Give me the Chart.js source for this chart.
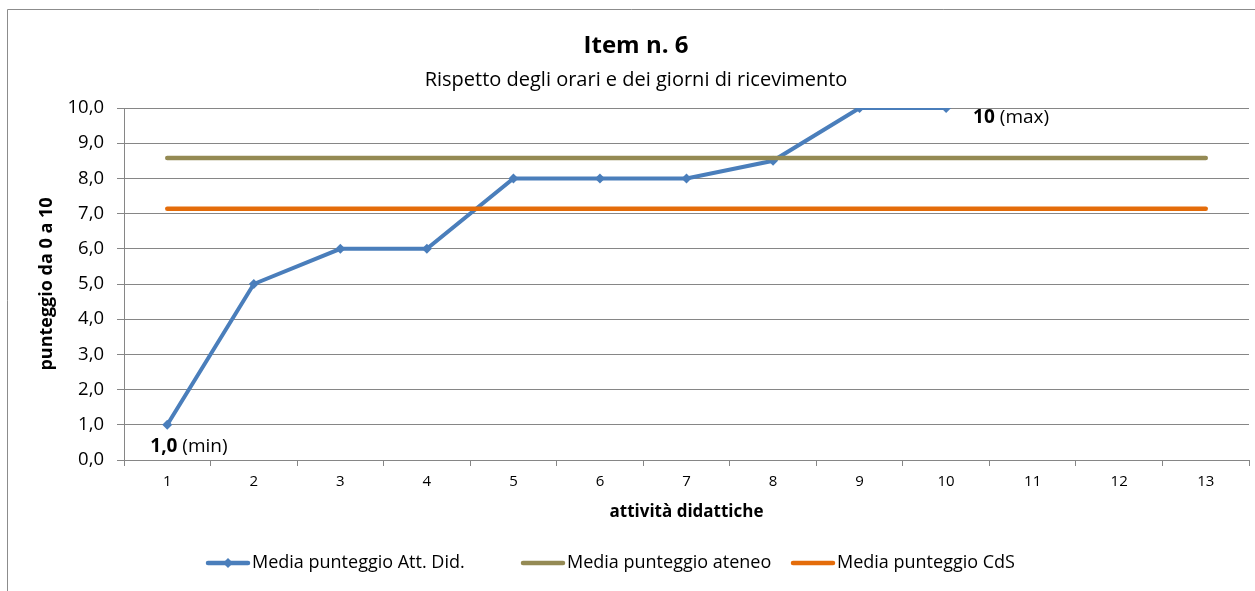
<!DOCTYPE html>
<html>
<head>
<meta charset="utf-8">
<script src="https://cdn.jsdelivr.net/npm/chart.js@4/dist/chart.umd.min.js"></script>
<style>
  html, body { margin: 0; padding: 0; background: #fff; }
</style>
</head>
<body>
<canvas id="itemChart" width="1255" height="591"></canvas>
<script>
// dati
const categories = ['1', '2', '3', '4', '5', '6', '7', '8', '9', '10', '11', '12', '13'];
const mediaAttDid = [1, 5, 6, 6, 8, 8, 8, 8.5, 10, 10, null, null, null];
const mediaAteneo = [8.58, 8.58, 8.58, 8.58, 8.58, 8.58, 8.58, 8.58, 8.58, 8.58, 8.58, 8.58, 8.58];
const mediaCdS = [7.14, 7.14, 7.14, 7.14, 7.14, 7.14, 7.14, 7.14, 7.14, 7.14, 7.14, 7.14, 7.14];
const yTicks = [0, 1, 2, 3, 4, 5, 6, 7, 8, 9, 10];

const seriesNames = ['Media punteggio Att. Did.', 'Media punteggio ateneo', 'Media punteggio CdS'];
const seriesColors = ['#4A7EBB', '#948A54', '#E46C0A'];

const FONT = "'Open Sans', 'Noto Sans', sans-serif";
const GRID = '#868686';
const legendX = [208, 523, 793];

const fmt = v => v.toFixed(1).replace('.', ',');

// titolo, legenda, etichette min/max e bordo
const decorPlugin = {
    id: 'decor',
    beforeDraw(chart) {
        const c = chart.ctx;
        c.save();
        c.strokeStyle = '#8c8c8c';
        c.lineWidth = 1;
        c.beginPath();
        c.moveTo(7.5, 591);
        c.lineTo(7.5, 9.5);
        c.lineTo(1255, 9.5);
        c.stroke();
        c.restore();
    },
    afterDraw(chart) {
        const c = chart.ctx;
        c.save();
        c.fillStyle = '#000';
        c.textAlign = 'center';
        c.textBaseline = 'middle';
        c.font = 'bold 24px ' + FONT;
        c.fillText('Item n. 6', 636, 46);
        c.font = '20px ' + FONT;
        c.fillText('Rispetto degli orari e dei giorni di ricevimento', 636, 80);

        // etichette min / max
        const meta = chart.getDatasetMeta(2);
        const vals = mediaAttDid.filter(v => v !== null);
        const iMin = mediaAttDid.indexOf(Math.min(...vals));
        const iMax = mediaAttDid.lastIndexOf(Math.max(...vals));
        const drawLabel = (pt, bold, rest, dx, dy) => {
            c.textAlign = 'left';
            c.font = 'bold 19px ' + FONT;
            c.fillText(bold, pt.x + dx, pt.y + dy);
            const w = c.measureText(bold + ' ').width;
            c.font = '19px ' + FONT;
            c.fillText(rest, pt.x + dx + w, pt.y + dy);
        };
        drawLabel(meta.data[iMin], fmt(mediaAttDid[iMin]), '(min)', -17, 22);
        drawLabel(meta.data[iMax], String(mediaAttDid[iMax]), '(max)', 27, 10);

        // legenda
        const y = 563;
        c.font = '18px ' + FONT;
        seriesNames.forEach((name, i) => {
            const x = legendX[i];
            c.strokeStyle = seriesColors[i];
            c.lineWidth = 4.5;
            c.lineCap = 'round';
            c.beginPath();
            c.moveTo(x, y);
            c.lineTo(x + 40, y);
            c.stroke();
            if (i === 0) {
                c.fillStyle = seriesColors[0];
                c.beginPath();
                c.moveTo(x + 20, y - 5);
                c.lineTo(x + 25, y);
                c.lineTo(x + 20, y + 5);
                c.lineTo(x + 15, y);
                c.closePath();
                c.fill();
            }
            c.fillStyle = '#000';
            c.textAlign = 'left';
            c.fillText(name, x + 44, y);
        });
        c.restore();
    }
};

new Chart(document.getElementById('itemChart').getContext('2d'), {
    type: 'line',
    data: {
        labels: categories,
        datasets: [{
            label: seriesNames[1],
            data: mediaAteneo,
            borderColor: seriesColors[1],
            borderWidth: 4.5,
            borderCapStyle: 'round',
            pointRadius: 0,
            order: 0
        }, {
            label: seriesNames[2],
            data: mediaCdS,
            borderColor: seriesColors[2],
            borderWidth: 4.5,
            borderCapStyle: 'round',
            pointRadius: 0,
            order: 0
        }, {
            label: seriesNames[0],
            data: mediaAttDid,
            borderColor: seriesColors[0],
            backgroundColor: seriesColors[0],
            borderWidth: 4,
            pointStyle: 'rectRot',
            pointRadius: 5,
            pointBorderWidth: 0,
            pointBackgroundColor: seriesColors[0],
            order: 1
        }]
    },
    options: {
        responsive: false,
        animation: false,
        layout: { padding: { top: 108, right: 6, left: 0, bottom: 0 } },
        plugins: {
            legend: { display: false },
            title: { display: false },
            tooltip: { enabled: false }
        },
        scales: {
            x: {
                offset: true,
                grid: {
                    offset: true,
                    drawOnChartArea: false,
                    tickLength: 6,
                    color: GRID
                },
                border: { color: GRID },
                ticks: { color: '#000', padding: 7, font: { family: FONT, size: 15 } },
                title: {
                    display: true,
                    text: 'attività didattiche',
                    color: '#000',
                    font: { family: FONT, size: 17, weight: 'bold' },
                    padding: { top: 0, bottom: 69 }
                },
                afterFit(s) { s.height = 131; }
            },
            y: {
                min: 0,
                max: 10,
                afterBuildTicks(s) { s.ticks = yTicks.map(v => ({ value: v })); },
                grid: { color: GRID, tickLength: 7 },
                border: { color: GRID },
                ticks: {
                    color: '#000',
                    padding: 13,
                    font: { family: FONT, size: 18.5 },
                    callback: v => fmt(v)
                },
                title: {
                    display: true,
                    text: 'punteggio da 0 a 10',
                    color: '#000',
                    font: { family: FONT, size: 18, weight: 'bold' },
                    padding: { top: 36, bottom: 0 }
                },
                afterFit(s) { s.width = 124; }
            }
        }
    },
    plugins: [decorPlugin]
});
</script>
</body>
</html>
